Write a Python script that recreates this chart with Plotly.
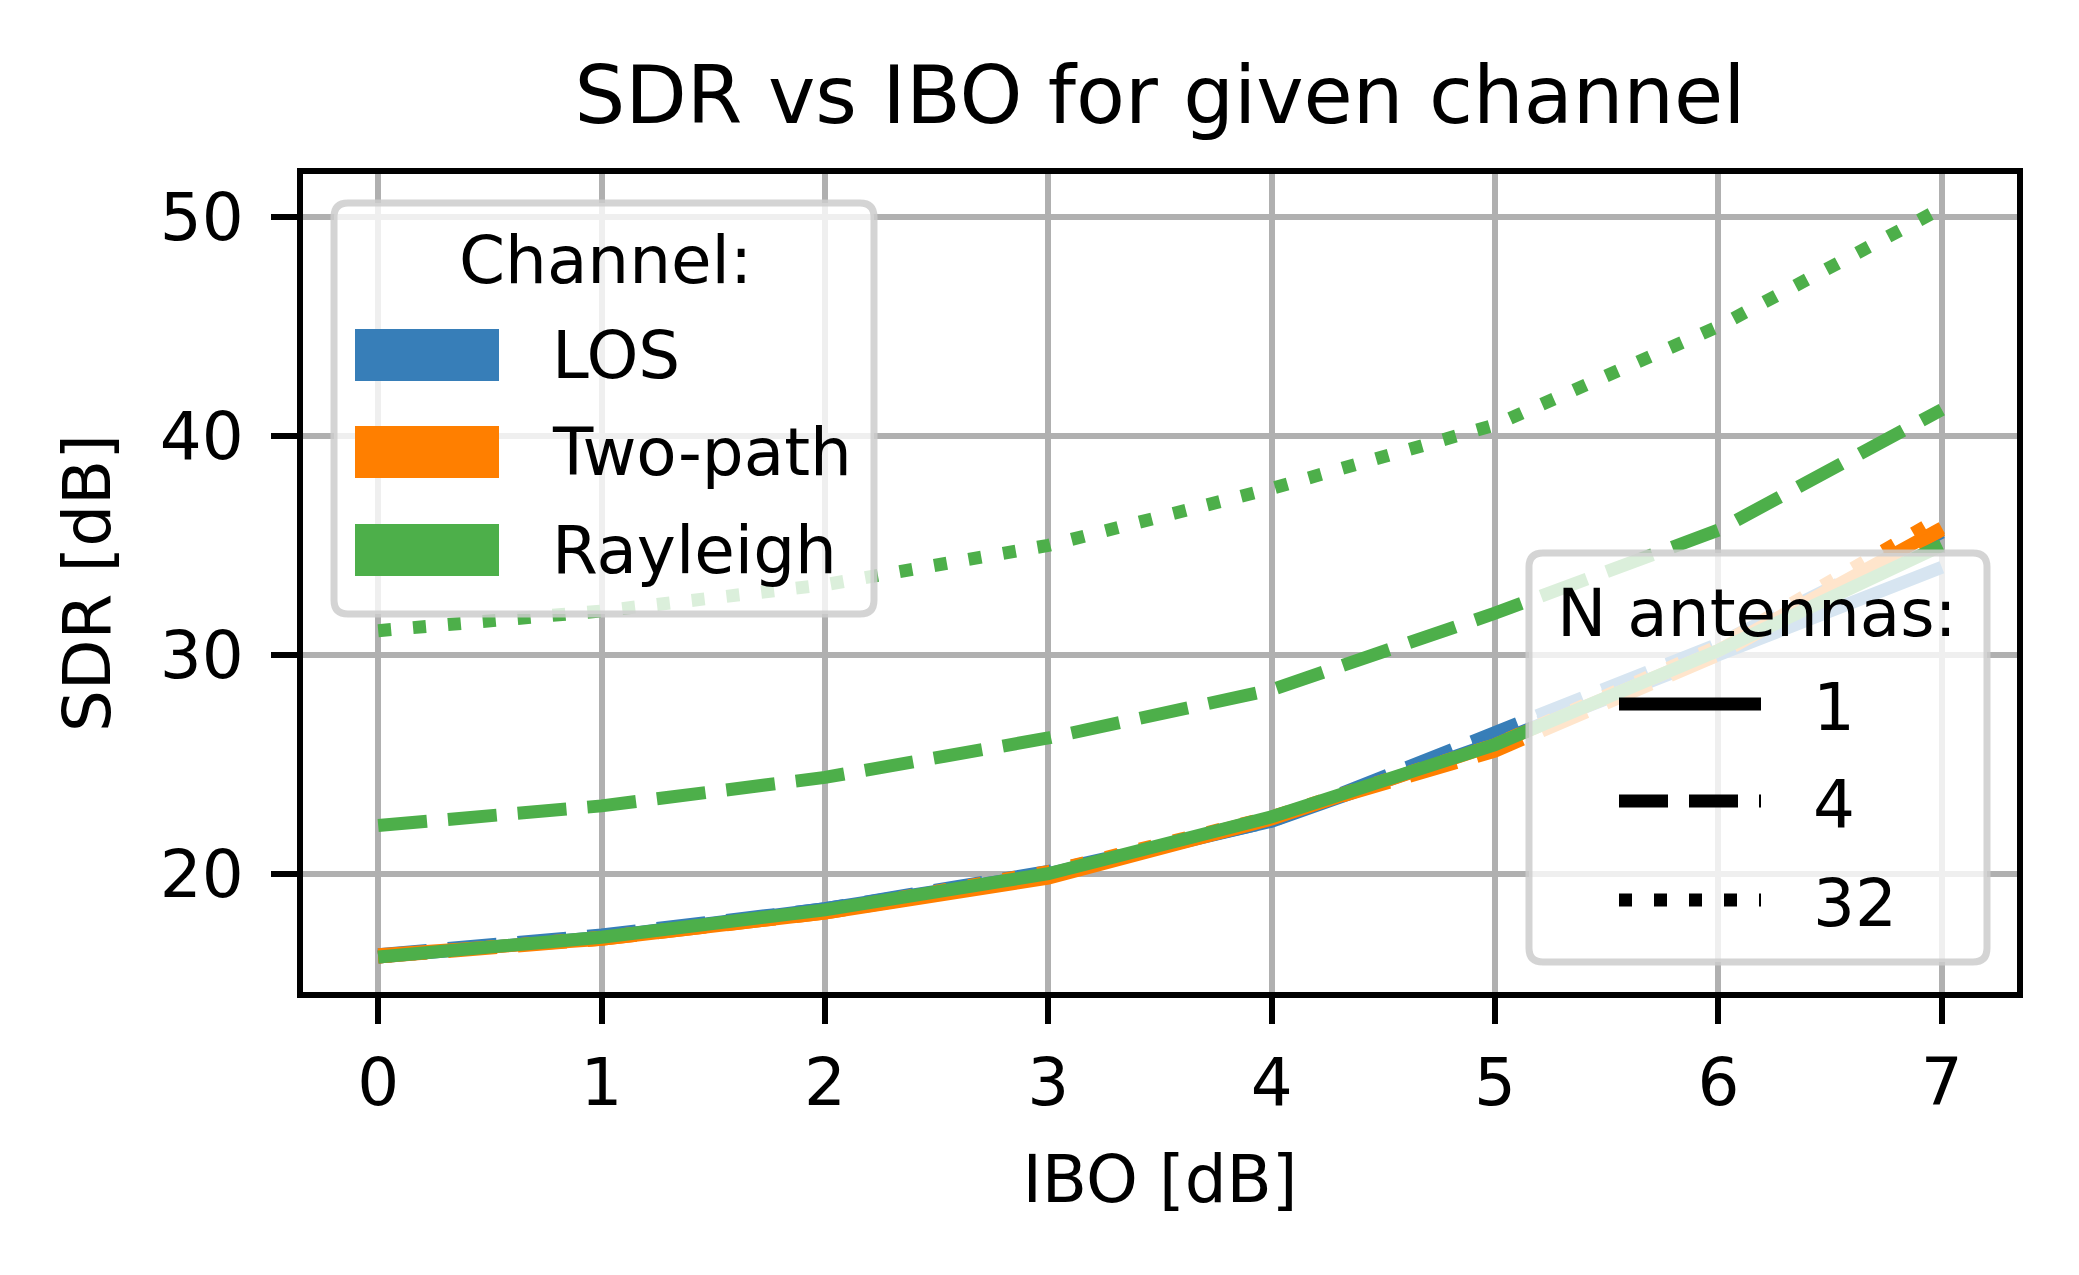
import plotly.graph_objects as go

# ---------------- data ----------------
ibo = [0, 1, 2, 3, 4, 5, 6, 7]

los_1 = [16.2, 17.1, 18.4, 20.0, 22.4, 26.0, 30.0, 34.0]
los_4 = [16.3, 17.2, 18.4, 20.1, 22.4, 26.4, 30.5, 35.6]
los_32 = [16.2, 17.1, 18.3, 20.0, 22.5, 26.1, 30.3, 35.2]
tp_1 = [16.3, 17.0, 18.2, 19.8, 22.5, 25.9, 30.2, 35.8]
tp_4 = [16.2, 17.0, 18.2, 19.9, 22.6, 25.6, 30.0, 35.7]
tp_32 = [16.2, 17.1, 18.3, 20.1, 22.6, 25.9, 30.4, 36.3]
ray_1 = [16.2, 17.1, 18.35, 20.0, 22.6, 25.9, 30.2, 35.0]
ray_4 = [22.2, 23.1, 24.4, 26.2, 28.4, 31.9, 35.7, 41.2]
ray_32 = [31.1, 32.0, 33.2, 35.0, 37.6, 40.5, 45.0, 50.4]

channels = ["LOS", "Two-path", "Rayleigh"]
n_antennas = ["1", "4", "32"]
series = {
    "LOS": [los_1, los_4, los_32],
    "Two-path": [tp_1, tp_4, tp_32],
    "Rayleigh": [ray_1, ray_4, ray_32],
}
x_ticks = [0, 1, 2, 3, 4, 5, 6, 7]
y_ticks = [20, 30, 40, 50]

# ---------------- style ----------------
W, H = 2079, 1275
OFF = 8  # page body margin in the browser
L, R, T, B = 300, 2020, 171, 995          # plot area in screenshot pixels
PW, PH = R - L, B - T
FONT = "DejaVu Sans"
colors = {"LOS": "#377eb8", "Two-path": "#ff7f00", "Rayleigh": "#4daf4a"}
LW = 13
dashes = {"1": "solid", "4": "49px,21px", "32": "13px,22px"}
FS = 66
TITLE_FS = 80

fig = go.Figure()
for ch in channels:
    for n, ys in zip(n_antennas, series[ch]):
        fig.add_trace(go.Scatter(
            x=ibo, y=ys, mode="lines", name=f"{ch} N={n}",
            line=dict(color=colors[ch], width=LW, dash=dashes[n]),
            showlegend=False,
        ))


def px(xp, yp):
    return (xp - L) / PW, (B - yp) / PH


def rounded_box(x0, y0, x1, y1, r=14):
    def P(a, b):
        u, v = px(a, b)
        return f"{u:.5f},{v:.5f}"
    path = (f"M{P(x0 + r, y0)} L{P(x1 - r, y0)} Q{P(x1, y0)} {P(x1, y0 + r)} "
            f"L{P(x1, y1 - r)} Q{P(x1, y1)} {P(x1 - r, y1)} "
            f"L{P(x0 + r, y1)} Q{P(x0, y1)} {P(x0, y1 - r)} "
            f"L{P(x0, y0 + r)} Q{P(x0, y0)} {P(x0 + r, y0)} Z")
    return dict(type="path", path=path, xref="paper", yref="paper", layer="above",
                fillcolor="rgba(255,255,255,0.8)",
                line=dict(color="rgba(204,204,204,0.85)", width=7))


shapes = []
annotations = []

# axes frame (spines drawn above the data, centred on the plot edge)
shapes.append(dict(type="rect", xref="paper", yref="paper", x0=0, x1=1, y0=0, y1=1,
                   layer="above", line=dict(color="black", width=6),
                   fillcolor="rgba(0,0,0,0)"))

# Channel legend
shapes.append(rounded_box(334, 203, 874, 614))
u, v = px(605, 261)
annotations.append(dict(x=u, y=v, xref="paper", yref="paper", text="Channel:",
                        showarrow=False, xanchor="center", yanchor="middle",
                        font=dict(size=FS, color="black", family=FONT)))
for ch, yc in zip(channels, [355, 452, 550]):
    a0, b0 = px(355, yc - 26)
    a1, b1 = px(499, yc + 26)
    shapes.append(dict(type="rect", xref="paper", yref="paper", layer="above",
                       x0=a0, x1=a1, y0=b1, y1=b0, fillcolor=colors[ch],
                       line=dict(width=0)))
    u, v = px(550, yc)
    annotations.append(dict(x=u, y=v, xref="paper", yref="paper", text=ch,
                            showarrow=False, xanchor="left", yanchor="middle",
                            font=dict(size=FS, color="black", family=FONT)))

# N antennas legend
shapes.append(rounded_box(1529, 553, 1987, 962))
u, v = px(1757, 613)
annotations.append(dict(x=u, y=v, xref="paper", yref="paper", text="N antennas:",
                        showarrow=False, xanchor="center", yanchor="middle",
                        font=dict(size=FS, color="black", family=FONT)))
for n, yc in zip(n_antennas, [704, 801, 900]):
    a0, b0 = px(1619, yc)
    a1, _ = px(1761, yc)
    shapes.append(dict(type="line", xref="paper", yref="paper", layer="above",
                       x0=a0, x1=a1, y0=b0, y1=b0,
                       line=dict(color="black", width=LW, dash=dashes[n])))
    u, v = px(1811, yc + 3)
    annotations.append(dict(x=u, y=v, xref="paper", yref="paper", text=n,
                            showarrow=False, xanchor="left", yanchor="middle",
                            font=dict(size=FS, color="black", family=FONT)))

axis_common = dict(
    showline=False, mirror=False,
    ticks="outside", ticklen=28, tickwidth=6, tickcolor="black",
    showgrid=True, gridcolor="#b0b0b0", gridwidth=5.5, zeroline=False,
    tickfont=dict(size=FS, color="black", family=FONT),
)

fig.update_layout(
    width=W, height=H,
    margin=dict(l=L - OFF, r=W - (R - OFF), t=T - OFF, b=H - (B - OFF)),
    paper_bgcolor="white", plot_bgcolor="white",
    font=dict(family=FONT, color="black"),
    title=dict(text="SDR vs IBO for given channel", x=((L + R) / 2 - OFF) / W, xanchor="center",
               y=1 - (95 - OFF) / H, yanchor="middle",
               font=dict(size=TITLE_FS, color="black", family=FONT)),
    xaxis=dict(range=[-0.35, 7.35], tickvals=x_ticks, ticklabelstandoff=2,
               title=dict(text="IBO [dB]", standoff=35, font=dict(size=FS, color="black", family=FONT)),
               **axis_common),
    yaxis=dict(range=[14.46, 52.1], tickvals=y_ticks, ticklabelstandoff=14,
               title=dict(text="SDR [dB]", standoff=27, font=dict(size=FS, color="black", family=FONT)),
               **axis_common),
    shapes=shapes,
    annotations=annotations,
    showlegend=False,
)

fig.write_html("out.html")
